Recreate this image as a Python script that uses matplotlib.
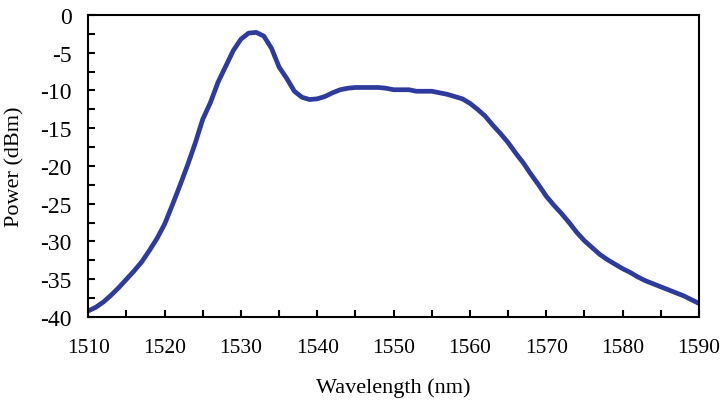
import matplotlib
matplotlib.use("Agg")
import matplotlib.pyplot as plt
from matplotlib.ticker import MultipleLocator

wavelength = list(range(1510, 1591))
power = [
    -39.2, -38.7, -38.0, -37.1, -36.1, -35.0, -33.9, -32.7, -31.2, -29.6,
    -27.7, -25.2, -22.6, -19.9, -17.0, -13.8, -11.6, -8.9, -6.8, -4.7,
    -3.2, -2.4, -2.3, -2.8, -4.4, -6.9, -8.4, -10.1, -10.9, -11.2,
    -11.1, -10.8, -10.3, -9.9, -9.7, -9.6, -9.6, -9.6, -9.6, -9.7,
    -9.9, -9.9, -9.9, -10.1, -10.1, -10.1, -10.3, -10.5, -10.8, -11.1,
    -11.7, -12.5, -13.4, -14.6, -15.7, -16.9, -18.3, -19.6, -21.1, -22.5,
    -24.0, -25.2, -26.3, -27.5, -28.8, -29.9, -30.8, -31.7, -32.4, -33.0,
    -33.6, -34.1, -34.7, -35.2, -35.6, -36.0, -36.4, -36.8, -37.2, -37.7,
    -38.2,
]

plt.rcParams["font.family"] = ["Liberation Serif", "DejaVu Serif"]
plt.rcParams["axes.unicode_minus"] = False

fig = plt.figure(figsize=(7.22, 4.02), dpi=100)
ax = fig.add_axes([0.1223, 0.209, 0.8457, 0.7512])

ax.plot(wavelength, power, color="#2e3a9c", linewidth=3.4, solid_capstyle="round")

ax.set_xlim(1510, 1590)
ax.set_ylim(-40, 0)
ax.xaxis.set_major_locator(MultipleLocator(10))
ax.xaxis.set_minor_locator(MultipleLocator(5))
ax.yaxis.set_major_locator(MultipleLocator(5))
ax.yaxis.set_minor_locator(MultipleLocator(2.5))

for side in ax.spines.values():
    side.set_linewidth(1.5)

ax.tick_params(axis="both", which="both", direction="in", width=1.5,
               length=5, top=False, right=False)
ax.tick_params(axis="x", which="major", pad=15, labelsize=15.5)
ax.tick_params(axis="y", which="major", pad=12, labelsize=17)

ax.set_xlabel("Wavelength (nm)", fontsize=16)
ax.set_ylabel("Power (dBm)", fontsize=16)
ax.xaxis.set_label_coords(0.5, -0.20)
ax.yaxis.set_label_coords(-0.104, 0.5)

fig.savefig("out.png", dpi=100)
